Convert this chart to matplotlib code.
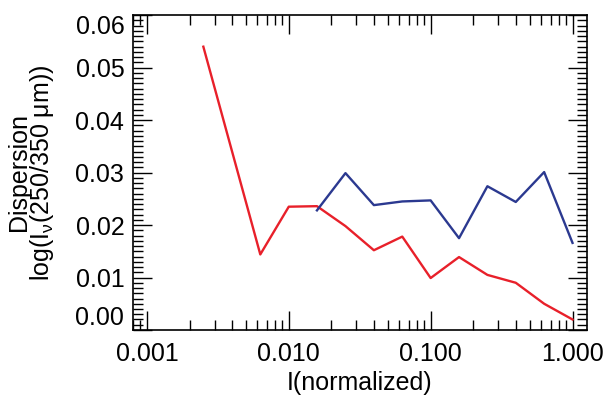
import matplotlib
matplotlib.use('Agg')
import matplotlib.pyplot as plt
import matplotlib.ticker as mticker
import numpy as np

# red curve (all intensities)
red_x = [0.0025, 0.0063, 0.0100, 0.0158, 0.0251, 0.0398, 0.0631,
         0.1000, 0.1585, 0.2512, 0.3981, 0.6310, 1.0000]
red_y = [0.0540, 0.0144, 0.0235, 0.0236, 0.0198, 0.0152, 0.0178,
         0.0099, 0.0139, 0.0105, 0.0090, 0.0050, 0.0020]

# blue curve
blue_x = [0.0158, 0.0251, 0.0398, 0.0631, 0.1000, 0.1585, 0.2512,
          0.3981, 0.6310, 1.0000]
blue_y = [0.0228, 0.0299, 0.0238, 0.0245, 0.0247, 0.0175, 0.0274,
          0.0244, 0.0301, 0.0166]

x_ticks = [0.001, 0.01, 0.1, 1.0]
x_labels = ['0.001', '0.010', '0.100', '1.000']
y_ticks = [0.00, 0.01, 0.02, 0.03, 0.04, 0.05, 0.06]
y_labels = ['0.00', '0.01', '0.02', '0.03', '0.04', '0.05', '0.06']

plt.rcParams['font.family'] = ['Liberation Sans', 'DejaVu Sans']
plt.rcParams['mathtext.fontset'] = 'custom'
plt.rcParams['mathtext.rm'] = 'Liberation Sans'
plt.rcParams['mathtext.it'] = 'Liberation Sans'

fig = plt.figure(figsize=(6.09, 3.98), dpi=100)
ax = fig.add_axes([0.2179, 0.1709, 0.7455, 0.7922])

ax.plot(red_x, red_y, color='#e8202a', lw=1.7)
ax.plot(blue_x, blue_y, color='#2b3990', lw=1.7)

ax.set_xscale('log')
ax.set_xlim(10 ** -3.1, 10 ** 0.1)
ax.set_ylim(0.0, 0.0601)

ax.set_xticks(x_ticks)
ax.set_xticklabels(x_labels)
ax.xaxis.set_minor_locator(mticker.LogLocator(base=10, subs=np.arange(2, 10)))
ax.xaxis.set_minor_formatter(mticker.NullFormatter())
ax.set_yticks(y_ticks)
ax.set_yticklabels(y_labels)
ax.yaxis.set_minor_locator(mticker.MultipleLocator(0.001))

ax.tick_params(which='both', direction='in', top=True, right=True,
               labelsize=18, width=1.0, colors='black')
ax.tick_params(axis='x', which='both', pad=9)
ax.tick_params(axis='y', which='both', pad=6)
ax.tick_params(which='major', length=14)
ax.tick_params(which='minor', length=7)
for s in ax.spines.values():
    s.set_linewidth(1.2)

# nudge end labels inward like the reference
ylbls = ax.get_yticklabels()
ylbls[0].set_va('bottom')
ylbls[-1].set_va('top')

ax.set_xlabel('I(normalized)', fontsize=18, labelpad=3)
ax.set_ylabel('Dispersion\nlog(I$_{\\nu}$(250/350 μm))', fontsize=18,
              linespacing=0.85, labelpad=14)

fig.savefig('out.png', dpi=100)
